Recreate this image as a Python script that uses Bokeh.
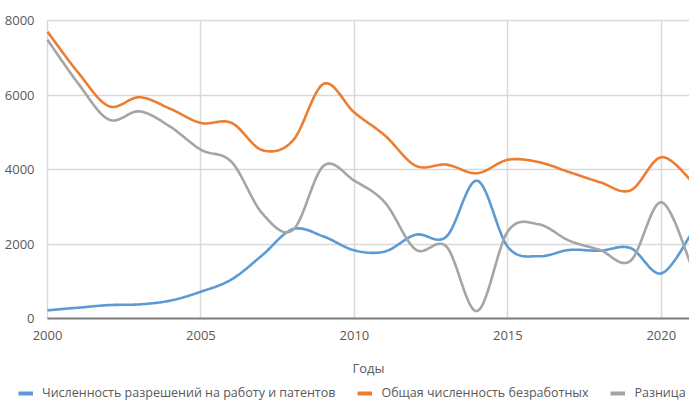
import numpy as np
from bokeh.plotting import figure
from bokeh.layouts import column
from bokeh.models import Legend, LegendItem, Range1d, FixedTicker, Grid, BoxAnnotation, Label
from bokeh.embed import file_html
from bokeh.resources import INLINE

years = list(range(2000, 2022))
permits = [220, 290, 360, 380, 480, 720, 1050, 1700, 2400, 2200, 1830, 1800,
           2250, 2200, 3700, 1920, 1670, 1840, 1820, 1890, 1210, 2300]
unemployed = [7700, 6600, 5700, 5940, 5630, 5250, 5250, 4520, 4780, 6300, 5530, 4910,
              4100, 4130, 3900, 4260, 4200, 3930, 3660, 3440, 4330, 3680]
difference = [7480, 6310, 5340, 5560, 5150, 4530, 4200, 2820, 2380, 4100, 3700, 3110,
              1850, 1930, 200, 2340, 2530, 2090, 1840, 1550, 3120, 1380]

names = ["Численность разрешений на работу и патентов",
         "Общая численность безработных",
         "Разница"]
colors = ["#5B9BD5", "#ED7D31", "#A5A5A5"]
x_ticks = [2000, 2005, 2010, 2015, 2020]
y_ticks = [0, 2000, 4000, 6000, 8000]
x_title = "Годы"
x_start, x_end = 2000, 2020.92
y_start, y_end = 0, 8000


def smooth(xs, ys, n=24):
    """Catmull-Rom style Bezier smoothing (as in spreadsheet 'smoothed line')."""
    xs = np.asarray(xs, float)
    ys = np.asarray(ys, float)
    px = np.concatenate([[xs[0]], xs, [xs[-1]]])
    py = np.concatenate([[ys[0]], ys, [ys[-1]]])
    ox, oy = [], []
    t = np.linspace(0, 1, n, endpoint=False)
    for i in range(1, len(px) - 2):
        p0x, p1x, p2x, p3x = px[i - 1], px[i], px[i + 1], px[i + 2]
        p0y, p1y, p2y, p3y = py[i - 1], py[i], py[i + 1], py[i + 2]
        c1x, c1y = p1x + (p2x - p0x) / 6, p1y + (p2y - p0y) / 6
        c2x, c2y = p2x - (p3x - p1x) / 6, p2y - (p3y - p1y) / 6
        bx = (1 - t) ** 3 * p1x + 3 * (1 - t) ** 2 * t * c1x + 3 * (1 - t) * t ** 2 * c2x + t ** 3 * p2x
        by = (1 - t) ** 3 * p1y + 3 * (1 - t) ** 2 * t * c1y + 3 * (1 - t) * t ** 2 * c2y + t ** 3 * p2y
        ox.extend(bx)
        oy.extend(by)
    ox.append(xs[-1])
    oy.append(ys[-1])
    return ox, oy


font = "Open Sans"
txt = "#595959"

# The frame covers the whole figure; axes are drawn inside it at x=2000 / y=0.
W, H, TOP = 689, 343, 8
plot_left, plot_top, plot_bottom = 47, 20, 318      # page pixels of the data area
px_per_year = (W - plot_left) / (x_end - x_start)
x_left = x_start - plot_left / px_per_year
units_per_px = (y_end - y_start) / (plot_bottom - plot_top)
y_top = y_end + (plot_top - TOP) * units_per_px
y_bottom = y_start - (H - plot_bottom) * units_per_px
xr = Range1d(x_left, x_end)

p = figure(width=W, height=H, output_backend="svg", toolbar_location=None,
           x_range=xr, y_range=Range1d(y_bottom, y_top),
           min_border_left=0, min_border_right=0, min_border_top=TOP, min_border_bottom=0)
p.outline_line_color = None

p.xaxis.ticker = FixedTicker(ticks=x_ticks)
p.yaxis.ticker = FixedTicker(ticks=y_ticks)
for ax in (p.xaxis, p.yaxis):
    ax.major_tick_line_color = None
    ax.minor_tick_line_color = None
    ax.major_label_text_font = font
    ax.major_label_text_font_size = "13px"
    ax.major_label_text_color = txt
p.yaxis.fixed_location = x_start
p.yaxis.axis_line_color = None
p.yaxis.major_label_standoff = 7
p.xaxis.fixed_location = y_start
p.xaxis.bounds = (x_start, 2021)
p.xaxis.axis_line_color = "#7f7f7f"
p.xaxis.axis_line_width = 2
p.xaxis.major_label_standoff = 6

p.xgrid.ticker = FixedTicker(ticks=x_ticks)
p.ygrid.ticker = FixedTicker(ticks=y_ticks)
p.grid.grid_line_color = "#d9d9d9"
p.grid.grid_line_width = 1.5
if "cross_bounds" in Grid.properties():
    p.ygrid.cross_bounds = (x_start, 2021)
    p.xgrid.cross_bounds = (y_start, y_end)
else:
    p.add_layout(BoxAnnotation(right=x_start, fill_color="white", fill_alpha=1,
                               line_alpha=0, level="underlay"))
    p.add_layout(BoxAnnotation(top=y_start, fill_color="white", fill_alpha=1,
                               line_alpha=0, level="underlay"))

series_list = [permits, unemployed, difference]
for series, color in zip(series_list, colors):
    sx, sy = smooth(years, series)
    p.line(sx, sy, line_color=color, line_width=2.6)

# strip below the chart: axis title and legend
pl = figure(width=W, height=58, output_backend="svg", toolbar_location=None,
            x_range=xr, y_range=Range1d(0, 58),
            x_axis_type=None, y_axis_type=None, min_border=0)
pl.outline_line_color = None
pl.add_layout(Label(x=(x_start + x_end) / 2, y=34, y_units="screen", text=x_title,
                    text_font=font, text_font_size="13px", text_color=txt,
                    text_align="center", text_baseline="middle"))
items = []
for series, name, color in zip(series_list, names, colors):
    proxy = pl.line(years, series, line_color=color, line_width=4, visible=False)
    items.append(LegendItem(label=name, renderers=[proxy]))

legend = Legend(items=items, orientation="horizontal", location=(18, 0),
                label_text_font=font, label_text_font_size="12.5px",
                label_text_color=txt, glyph_width=15, glyph_height=12,
                label_standoff=9, spacing=22, padding=0, margin=0,
                inactive_fill_alpha=0,
                background_fill_alpha=0, border_line_color=None)
pl.add_layout(legend, "center")

layout = column(p, pl, spacing=0)
open("out.html", "w").write(file_html(layout, INLINE))
